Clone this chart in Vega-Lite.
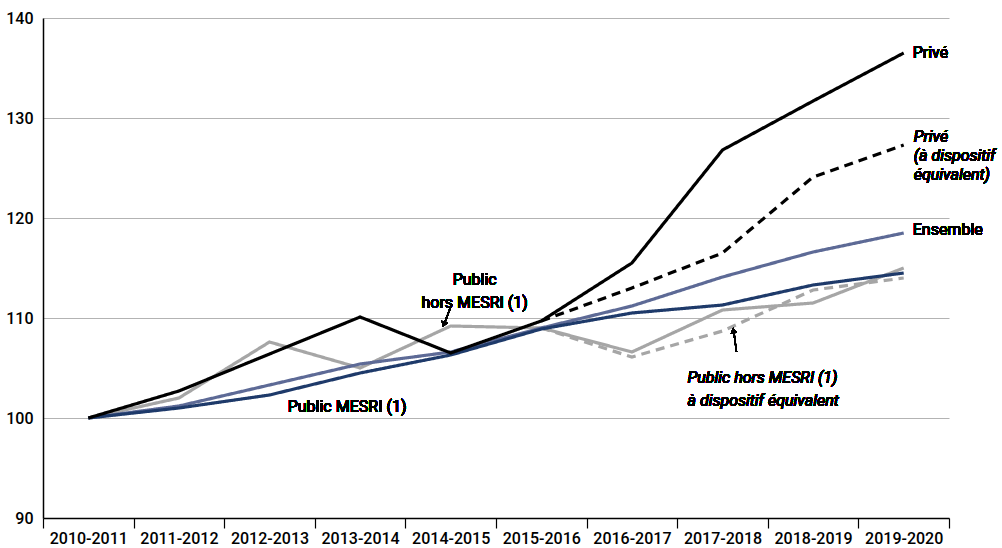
{
  "$schema": "https://vega.github.io/schema/vega-lite/v6.json",
  "width": 906,
  "height": 500,
  "autosize": "none",
  "padding": {"left": 43, "top": 18, "right": 53, "bottom": 30},
  "background": "white",
  "config": {
    "view": {"stroke": null},
    "font": "Roboto"
  },
  "data": {
    "values": [
      {"series": "Public hors MESRI éq", "year": "2015-2016", "value": 109.0},
      {"series": "Public hors MESRI éq", "year": "2016-2017", "value": 106.1},
      {"series": "Public hors MESRI éq", "year": "2017-2018", "value": 108.7},
      {"series": "Public hors MESRI éq", "year": "2018-2019", "value": 112.8},
      {"series": "Public hors MESRI éq", "year": "2019-2020", "value": 114.0},
      {"series": "Public hors MESRI", "year": "2010-2011", "value": 100.0},
      {"series": "Public hors MESRI", "year": "2011-2012", "value": 102.0},
      {"series": "Public hors MESRI", "year": "2012-2013", "value": 107.6},
      {"series": "Public hors MESRI", "year": "2013-2014", "value": 105.0},
      {"series": "Public hors MESRI", "year": "2014-2015", "value": 109.2},
      {"series": "Public hors MESRI", "year": "2015-2016", "value": 109.0},
      {"series": "Public hors MESRI", "year": "2016-2017", "value": 106.6},
      {"series": "Public hors MESRI", "year": "2017-2018", "value": 110.8},
      {"series": "Public hors MESRI", "year": "2018-2019", "value": 111.5},
      {"series": "Public hors MESRI", "year": "2019-2020", "value": 115.0},
      {"series": "Ensemble", "year": "2010-2011", "value": 100.0},
      {"series": "Ensemble", "year": "2011-2012", "value": 101.2},
      {"series": "Ensemble", "year": "2012-2013", "value": 103.3},
      {"series": "Ensemble", "year": "2013-2014", "value": 105.4},
      {"series": "Ensemble", "year": "2014-2015", "value": 106.6},
      {"series": "Ensemble", "year": "2015-2016", "value": 109.0},
      {"series": "Ensemble", "year": "2016-2017", "value": 111.2},
      {"series": "Ensemble", "year": "2017-2018", "value": 114.1},
      {"series": "Ensemble", "year": "2018-2019", "value": 116.6},
      {"series": "Ensemble", "year": "2019-2020", "value": 118.5},
      {"series": "Public MESRI", "year": "2010-2011", "value": 100.0},
      {"series": "Public MESRI", "year": "2011-2012", "value": 101.0},
      {"series": "Public MESRI", "year": "2012-2013", "value": 102.3},
      {"series": "Public MESRI", "year": "2013-2014", "value": 104.5},
      {"series": "Public MESRI", "year": "2014-2015", "value": 106.3},
      {"series": "Public MESRI", "year": "2015-2016", "value": 108.9},
      {"series": "Public MESRI", "year": "2016-2017", "value": 110.5},
      {"series": "Public MESRI", "year": "2017-2018", "value": 111.3},
      {"series": "Public MESRI", "year": "2018-2019", "value": 113.3},
      {"series": "Public MESRI", "year": "2019-2020", "value": 114.5},
      {"series": "Privé éq", "year": "2015-2016", "value": 109.7},
      {"series": "Privé éq", "year": "2016-2017", "value": 113.0},
      {"series": "Privé éq", "year": "2017-2018", "value": 116.5},
      {"series": "Privé éq", "year": "2018-2019", "value": 124.1},
      {"series": "Privé éq", "year": "2019-2020", "value": 127.3},
      {"series": "Privé", "year": "2010-2011", "value": 100.0},
      {"series": "Privé", "year": "2011-2012", "value": 102.7},
      {"series": "Privé", "year": "2012-2013", "value": 106.4},
      {"series": "Privé", "year": "2013-2014", "value": 110.1},
      {"series": "Privé", "year": "2014-2015", "value": 106.5},
      {"series": "Privé", "year": "2015-2016", "value": 109.7},
      {"series": "Privé", "year": "2016-2017", "value": 115.5},
      {"series": "Privé", "year": "2017-2018", "value": 126.8},
      {"series": "Privé", "year": "2018-2019", "value": 131.7},
      {"series": "Privé", "year": "2019-2020", "value": 136.5}
    ]
  },
  "encoding": {
    "x": {
      "field": "year",
      "type": "nominal",
      "sort": ["2010-2011", "2011-2012", "2012-2013", "2013-2014", "2014-2015", "2015-2016", "2016-2017", "2017-2018", "2018-2019", "2019-2020"],
      "scale": {"type": "band", "paddingInner": 0, "paddingOuter": 0, "domain": ["2010-2011", "2011-2012", "2012-2013", "2013-2014", "2014-2015", "2015-2016", "2016-2017", "2017-2018", "2018-2019", "2019-2020"]},
      "axis": {
        "title": null,
        "labelAngle": 0,
        "labelFontSize": 16,
        "labelColor": "#000",
        "labelFont": "Roboto",
        "labelFontWeight": 500,
        "labelPadding": 2,
        "tickBand": "extent",
        "tickSize": 10,
        "tickColor": "#000",
        "tickWidth": 1.2,
        "domainColor": "#000",
        "domainWidth": 1.5,
        "grid": false
      }
    },
    "y": {
      "field": "value",
      "type": "quantitative",
      "scale": {"domain": [90, 140], "nice": false, "zero": false},
      "axis": {
        "title": null,
        "values": [90, 100, 110, 120, 130, 140],
        "ticks": false,
        "labelFontSize": 16,
        "labelColor": "#000",
        "labelFont": "Roboto",
        "labelFontWeight": 500,
        "labelPadding": 10,
        "domainColor": "#000",
        "domainWidth": 1.5,
        "gridColor": "#b3b3b3",
        "gridWidth": 1.2
      }
    }
  },
  "layer": [
    {
      "mark": {"type": "line", "strokeWidth": 3.2},
      "encoding": {
        "detail": {"field": "series"},
        "color": {
          "field": "series",
          "type": "nominal",
          "legend": null,
          "scale": {
            "domain": ["Public hors MESRI éq", "Public hors MESRI", "Ensemble", "Public MESRI", "Privé éq", "Privé"],
            "range": ["#a6a6a6", "#a6a6a6", "#5d6a96", "#1e3a6a", "#000000", "#000000"]
          }
        },
        "strokeDash": {
          "field": "series",
          "type": "nominal",
          "legend": null,
          "scale": {
            "domain": ["Public hors MESRI éq", "Public hors MESRI", "Ensemble", "Public MESRI", "Privé éq", "Privé"],
            "range": [[9, 6], [1, 0], [1, 0], [1, 0], [9, 6], [1, 0]]
          }
        }
      }
    },
    {
      "mark": {"type": "text", "align": "left", "baseline": "middle", "dx": 9, "color": "#000", "fontSize": 16, "fontWeight": "normal", "font": "Roboto"},
      "encoding": {"x": {"datum": "2019-2020"}, "y": {"datum": 136.5}, "text": {"value": "Privé"}}
    },
    {
      "mark": {"type": "text", "align": "left", "baseline": "middle", "dx": 10, "color": "#000", "fontSize": 16, "fontWeight": "normal", "font": "Roboto", "fontStyle": "italic", "lineHeight": 19},
      "encoding": {"x": {"datum": "2019-2020"}, "y": {"datum": 128.1}, "text": {"value": ["Privé", "(à dispositif", "équivalent)"]}}
    },
    {
      "mark": {"type": "text", "align": "left", "baseline": "middle", "dx": 9, "dy": -3, "color": "#000", "fontSize": 16, "fontWeight": "normal", "font": "Roboto"},
      "encoding": {"x": {"datum": "2019-2020"}, "y": {"datum": 118.5}, "text": {"value": "Ensemble"}}
    },
    {
      "mark": {"type": "text", "align": "center", "baseline": "middle", "dx": 24, "lineHeight": 23, "color": "#000", "fontSize": 16, "fontWeight": "normal", "font": "Roboto"},
      "encoding": {"x": {"datum": "2014-2015"}, "y": {"datum": 113.85}, "text": {"value": ["Public", "hors MESRI (1)"]}}
    },
    {
      "mark": {"type": "text", "align": "center", "baseline": "middle", "dx": -13, "color": "#000", "fontSize": 16, "fontWeight": "normal", "font": "Roboto"},
      "encoding": {"x": {"datum": "2013-2014"}, "y": {"datum": 101.1}, "text": {"value": "Public MESRI (1)"}}
    },
    {
      "mark": {"type": "text", "align": "left", "baseline": "middle", "dx": -35, "fontStyle": "italic", "lineHeight": 23, "color": "#000", "fontSize": 16, "fontWeight": "normal", "font": "Roboto"},
      "encoding": {"x": {"datum": "2017-2018"}, "y": {"datum": 104.05}, "text": {"value": ["Public hors MESRI (1)", "à dispositif équivalent"]}}
    },
    {
      "mark": {"type": "rule", "color": "#000", "strokeWidth": 1.3, "xOffset": 1, "x2Offset": -6},
      "encoding": {"x": {"datum": "2014-2015"}, "y": {"datum": 111.4}, "x2": {"datum": "2014-2015"}, "y2": {"datum": 109.5}}
    },
    {
      "mark": {"type": "point", "shape": "triangle-up", "filled": true, "color": "#000", "size": 40, "opacity": 1, "angle": 200, "xOffset": -7},
      "encoding": {"x": {"datum": "2014-2015"}, "y": {"datum": 109.35}}
    },
    {
      "mark": {"type": "rule", "color": "#000", "strokeWidth": 1.3, "xOffset": 14, "x2Offset": 11.5},
      "encoding": {"x": {"datum": "2017-2018"}, "y": {"datum": 106.6}, "x2": {"datum": "2017-2018"}, "y2": {"datum": 108.5}}
    },
    {
      "mark": {"type": "point", "shape": "triangle-up", "filled": true, "color": "#000", "size": 40, "opacity": 1, "angle": 352, "xOffset": 11},
      "encoding": {"x": {"datum": "2017-2018"}, "y": {"datum": 108.75}}
    }
  ]
}
